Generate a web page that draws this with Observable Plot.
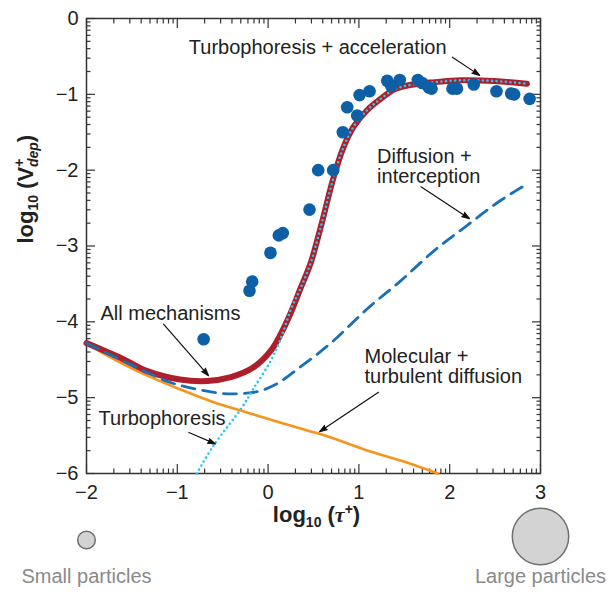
<!DOCTYPE html>
<html>
<head>
<meta charset="utf-8">
<script src="https://cdn.jsdelivr.net/npm/d3@7"></script>
<script src="https://cdn.jsdelivr.net/npm/@observablehq/plot@0.6"></script>
<style>
  body { margin: 0; background: #fff; }
  #chart svg { display: block; }
</style>
</head>
<body>
<div id="chart"></div>
<script>
// Measured deposition velocities, log10(tau+) vs log10(V+dep)
const obsX = [-0.71, -0.205, -0.175, 0.026, 0.118, 0.162, 0.456, 0.552, 0.717, 0.823, 0.871, 0.981, 1.007, 1.117,
              1.312, 1.356, 1.45, 1.649, 1.697, 1.77, 1.8, 2.03, 2.08, 2.265, 2.515, 2.677, 2.71, 2.88];
const obsY = [-4.23, -3.59, -3.47, -3.09, -2.86, -2.83, -2.52, -2.0, -2.0, -1.5, -1.17, -1.28, -1.01, -0.96,
              -0.82, -0.89, -0.81, -0.81, -0.85, -0.91, -0.925, -0.925, -0.925, -0.87, -0.96, -0.99, -1.0, -1.06];

// Model curves
const allX = [-2, -1.6, -1.33, -0.97, -0.67, -0.41, -0.16, 0.03, 0.14, 0.25, 0.36, 0.47, 0.58, 0.72, 0.83, 0.94,
              1.09, 1.24, 1.4, 1.6, 1.83, 2.12, 2.49, 2.85];
const allY = [-4.28, -4.49, -4.65, -4.76, -4.78, -4.73, -4.6, -4.38, -4.16, -3.88, -3.55, -3.22, -2.75, -2.1, -1.7, -1.43,
              -1.21, -1.06, -0.93, -0.87, -0.84, -0.815, -0.824, -0.86];

const turboX = [-0.785, -0.6, -0.3, -0.16, 0.03, 0.14, 0.25, 0.36, 0.47, 0.58, 0.72, 0.83, 0.94, 1.09, 1.24, 1.4,
                1.6, 1.83, 2.12, 2.49, 2.85];
const turboY = [-6.0, -5.63, -5.15, -4.88, -4.51, -4.22, -3.84, -3.55, -3.22, -2.75, -2.1, -1.7, -1.43, -1.21, -1.06, -0.93,
                -0.87, -0.84, -0.815, -0.824, -0.86];

const diffX = [-2, -1.5, -1.075, -0.78, -0.41, -0.16, 0.06, 0.35, 0.72, 1.09, 1.46, 1.83, 2.19, 2.56, 2.8];
const diffY = [-4.28, -4.57, -4.8, -4.89, -4.95, -4.93, -4.84, -4.6, -4.25, -3.83, -3.46, -3.06, -2.73, -2.4, -2.22];

const molX = [-2, -1.7, -1.33, -0.97, -0.6, -0.3, 0.14, 0.45, 0.6, 1.1, 1.46, 1.87];
const molY = [-4.29, -4.49, -4.71, -4.89, -5.06, -5.17, -5.33, -5.44, -5.49, -5.7, -5.83, -6.0];

// Annotation labels and their leader arrows
const noteText = ["Turbophoresis + acceleration", "Diffusion +\ninterception", "Molecular +\nturbulent diffusion",
                  "All mechanisms", "Turbophoresis"];
const noteX = [-0.873, 1.2, 1.062, -1.846, -1.868];
const noteY = [-0.39, -1.955, -4.59, -3.89, -5.27];
const arrowFrom = [[2.03, -0.51], [1.684, -2.22], [1.216, -4.93], [-1.152, -4.03], [-0.873, -5.46]];
const arrowTo = [[2.33, -0.75], [2.218, -2.64], [0.566, -5.45], [-0.656, -4.71], [-0.58, -5.61]];

// Particle size key under the axis ends
const sizeLabels = ["Small particles", "Large particles"];
const sizeX = [-2, 3];
const sizeR = [8.8, 28.2];

const xMajor = [-2, -1, 0, 1, 2, 3];
const yMajor = [-6, -5, -4, -3, -2, -1, 0];

const rows = (xs, ys) => xs.map((x, i) => ({x, y: ys[i]}));
const logMinor = (majors) => majors.slice(0, -1).flatMap(d => d3.range(2, 10).map(k => d + Math.log10(k)));
const fmt = d => d < 0 ? "\u2212" + Math.abs(d) : String(d);

const notes = noteText.map((text, i) => ({text, x: noteX[i], y: noteY[i]}));
const arrows = arrowFrom.map((a, i) => ({x1: a[0], y1: a[1], x2: arrowTo[i][0], y2: arrowTo[i][1]}));
const sizes = sizeLabels.map((label, i) => ({label, x: sizeX[i], r: sizeR[i]}));

const FONT = "'Liberation Sans', Arial, Helvetica, sans-serif";
const tickOnly = {stroke: "#333", strokeWidth: 1.2, label: null, tickFormat: () => ""};

// Ticks pointing into the frame: outward ticks shifted back inside by their own length
function inwardTicks(len, minorTicks, majorTicks) {
  return [
    ...[[majorTicks.x, 9], [minorTicks.x, 4.5]].flatMap(([ticks, L]) => [
      Plot.axisX({anchor: "bottom", ticks, tickSize: L, dy: -L, ...tickOnly}),
      Plot.axisX({anchor: "top", ticks, tickSize: L, dy: L, ...tickOnly})
    ]),
    ...[[majorTicks.y, 9], [minorTicks.y, 4.5]].flatMap(([ticks, L]) => [
      Plot.axisY({anchor: "left", ticks, tickSize: L, dx: L, ...tickOnly}),
      Plot.axisY({anchor: "right", ticks, tickSize: L, dx: -L, ...tickOnly})
    ])
  ];
}

const chart = Plot.plot({
  width: 608,
  height: 596,
  marginLeft: 86,
  marginRight: 68,
  marginTop: 18,
  marginBottom: 123,
  style: {fontFamily: FONT, fontSize: "20px", color: "#222", background: "#fff"},
  x: {domain: [-2, 3]},
  y: {domain: [-6, 0]},
  r: {type: "identity"},
  marks: [
    ...inwardTicks(9, {x: logMinor(xMajor), y: logMinor(yMajor)}, {x: xMajor, y: yMajor}),
    Plot.axisX({anchor: "bottom", ticks: xMajor, tickSize: 0, tickPadding: 11, tickFormat: fmt, label: null, fontSize: 20}),
    Plot.axisY({anchor: "left", ticks: yMajor, tickSize: 0, tickPadding: 8, tickFormat: fmt, label: null, fontSize: 20}),
    Plot.frame({stroke: "#333", strokeWidth: 1.5}),

    // model curves
    Plot.line(rows(molX, molY), {x: "x", y: "y", stroke: "#f7941d", strokeWidth: 2.6, curve: "monotone-x"}),
    Plot.line(rows(allX, allY), {x: "x", y: "y", stroke: "#ac1f2b", strokeWidth: 6, curve: "catmull-rom"}),
    Plot.line(rows(diffX, diffY), {x: "x", y: "y", stroke: "#1b6fb3", strokeWidth: 2.8,
      strokeDasharray: "13,8", curve: "monotone-x"}),
    Plot.line(rows(turboX, turboY), {x: "x", y: "y", stroke: "#2cc5f2", strokeWidth: 2.6,
      strokeDasharray: "0,4.6", strokeLinecap: "round", curve: "catmull-rom"}),

    // measurements
    Plot.dot(rows(obsX, obsY), {x: "x", y: "y", r: 6.3, fill: "#0d5fa6"}),

    // annotations
    Plot.arrow(arrows, {x1: "x1", y1: "y1", x2: "x2", y2: "y2", stroke: "#111", fill: "#111",
      strokeWidth: 1.2, headLength: 10, headAngle: 36}),
    Plot.text(notes, {x: "x", y: "y", text: "text", textAnchor: "start", lineHeight: 1.0,
      fontSize: 20, fill: "#222"}),

    // particle size key
    Plot.dot(sizes.filter(d => d.x < 0), {x: "x", r: "r", frameAnchor: "bottom", dy: 66.5,
      fill: "#d3d3d3", stroke: "#707070", strokeWidth: 1.5}),
    Plot.dot(sizes.filter(d => d.x > 0), {x: "x", r: "r", frameAnchor: "bottom", dy: 63,
      fill: "#d3d3d3", stroke: "#707070", strokeWidth: 1.5}),
    Plot.text(sizes, {x: "x", text: "label", frameAnchor: "bottom", dy: 109, fill: "#8a8a8a", fontSize: 20}),

    // axis titles (sub/superscripts are added below)
    Plot.text(["log10 (τ+)"], {x: 0.533, text: d => d, frameAnchor: "bottom", dy: 48,
      fontSize: 22, fontWeight: "bold", fill: "#222"}),
    Plot.text(["log10 (V+dep)"], {y: -2.967, text: d => d, frameAnchor: "left", dx: -61, rotate: -90,
      fontSize: 22, fontWeight: "bold", fill: "#222"})
  ]
});

document.getElementById("chart").appendChild(chart);

// Rebuild the axis titles with subscripts and superscripts
function richText(node, parts) {
  node.textContent = "";
  for (const p of parts) {
    const t = document.createElementNS("http://www.w3.org/2000/svg", "tspan");
    t.textContent = p.t;
    for (const [k, v] of Object.entries(p.a || {})) t.setAttribute(k, v);
    node.appendChild(t);
  }
}
const svg = d3.select(chart);
svg.selectAll("text").each(function () {
  const s = this.textContent;
  if (s === "log10 (τ+)") {
    richText(this, [
      {t: "log"},
      {t: "10", a: {"font-size": 14, dy: 5}},
      {t: " (", a: {dy: -5}},
      {t: "τ", a: {"font-style": "italic", "font-family": "'Liberation Serif', 'DejaVu Serif', serif"}},
      {t: "+", a: {"font-size": 14, dy: -8}},
      {t: ")", a: {dy: 8}}
    ]);
  } else if (s === "log10 (V+dep)") {
    richText(this, [
      {t: "log"},
      {t: "10", a: {"font-size": 14, dy: 5}},
      {t: " (", a: {dy: -5}},
      {t: "V"},
      {t: "+", a: {"font-size": 14, dy: -9}},
      {t: "dep", a: {"font-size": 14, dy: 14, dx: -8.5, "font-style": "italic"}},
      {t: ")", a: {dy: -5}}
    ]);
  }
});
</script>
</body>
</html>
